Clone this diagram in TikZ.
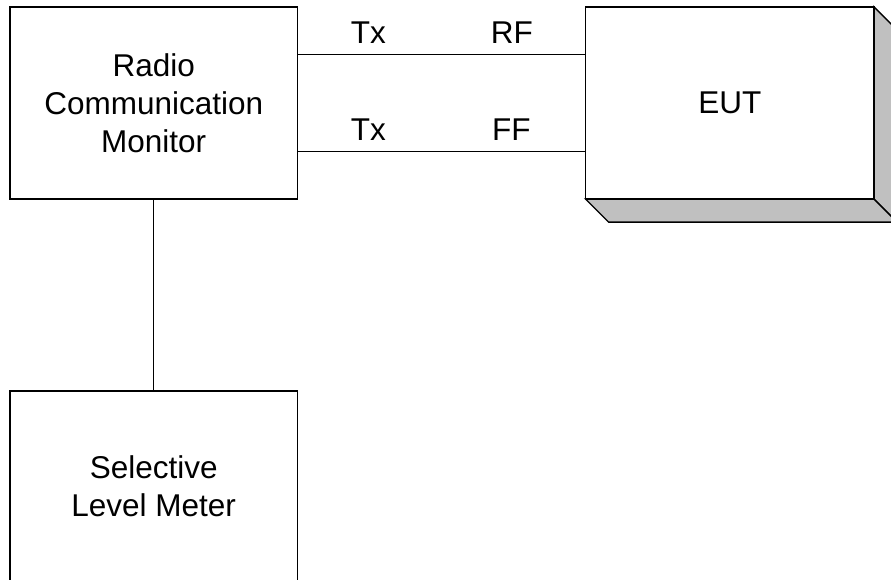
\documentclass[tikz,border=0pt]{standalone}
\usepackage{fontspec}
\setmainfont{Liberation Sans}
\usepackage{xcolor}
\usepackage{tikz}
\usetikzlibrary{calc}
\definecolor{ink}{HTML}{000000}
\definecolor{shade}{HTML}{C0C0C0}
\tikzset{
  box/.style={draw=ink, line width=1.4pt, fill=white, align=center, inner sep=0pt,
    font=\fontsize{31.5}{38}\selectfont},
  wire/.style={draw=ink, line width=1.4pt},
  side/.style={draw=ink, fill=shade, line width=1.4pt, line join=miter},
  lab/.style={text=ink, anchor=base, inner sep=0pt, yshift=11.3pt,
    font=\fontsize{31.5}{38}\selectfont},
}

\begin{document}
\begin{tikzpicture}[x=1pt, y=-1pt]
  \useasboundingbox (0,0) rectangle (891,580);
  \def\d{23}
  % boxes
  \node[box, minimum width=287.5pt, minimum height=192.3pt] (rcm) at (153.7,103) {Radio\\Communication\\Monitor};
  \node[box, minimum width=287.5pt, minimum height=190pt] (slm) at (153.7,486) {Selective\\Level Meter};
  % EUT with its shaded depth
  \path[side] (729.8+144.15,6.85) -- ++(\d,\d) -- ++(0,192.3) -- ++(-\d,-\d) -- cycle;
  \path[side] (729.8-144.15,199.15) -- ++(\d,\d) -- ++(288.3,0) -- ++(-\d,-\d) -- cycle;
  \node[box, minimum width=288.3pt, minimum height=192.3pt] (eut) at (729.8,103) {EUT};
  % connections
  \coordinate (t1) at ($(rcm.north east)!0.25!(rcm.south east)$);
  \coordinate (t2) at ($(rcm.north east)!0.75!(rcm.south east)$);
  \draw[wire] (t1) -- node[lab, pos=0.245] {Tx} node[lab, pos=0.745] {RF} (t1 -| eut.west);
  \draw[wire] (t2) -- node[lab, pos=0.245] {Tx} node[lab, pos=0.743] {FF} (t2 -| eut.west);
  \draw[wire] (rcm.south) -- (slm.north);
\end{tikzpicture}
\end{document}
